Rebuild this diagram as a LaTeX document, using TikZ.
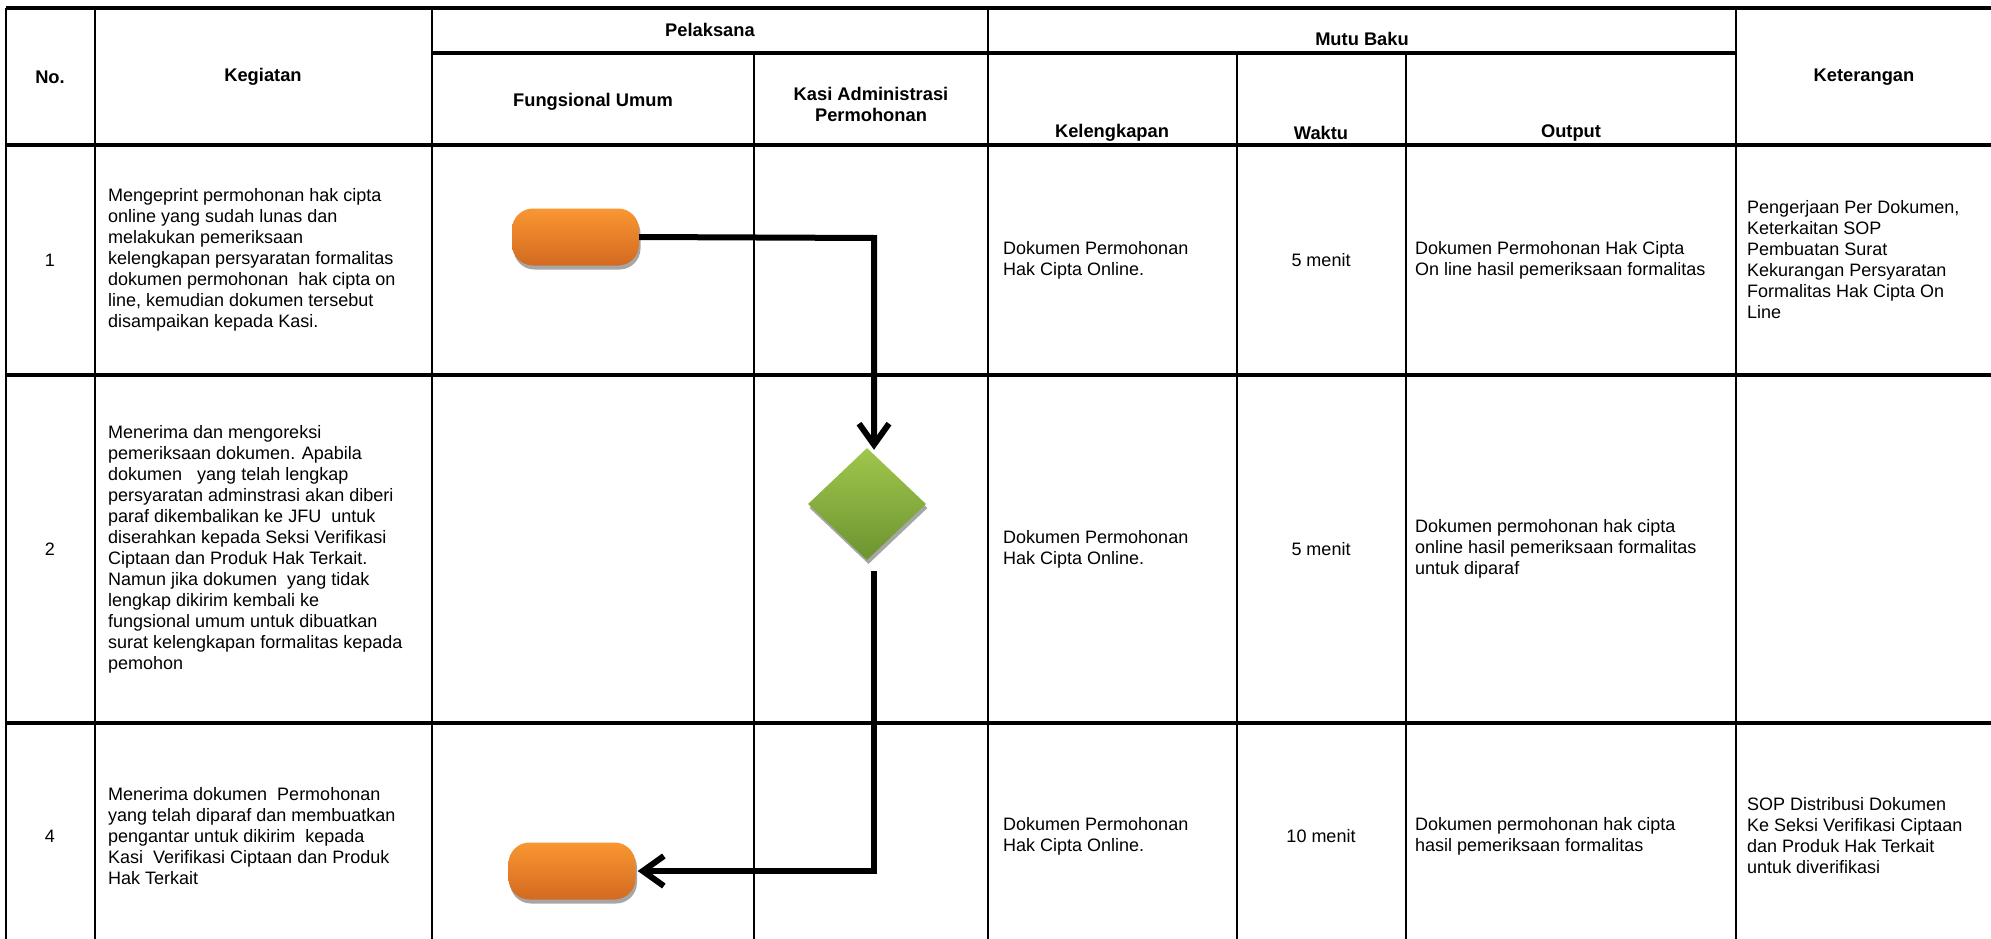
\documentclass[tikz,border=0pt]{standalone}
\usepackage{fontspec}
\setmainfont{Liberation Sans}
\usetikzlibrary{arrows.meta,shapes.geometric,shadows}
\definecolor{orTop}{RGB}{250,150,50}
\definecolor{orBot}{RGB}{210,106,32}
\definecolor{grTop}{RGB}{160,198,76}
\definecolor{grBot}{RGB}{108,148,48}
\definecolor{shd}{RGB}{166,166,166}
\begin{document}
\begin{tikzpicture}[x=1pt,y=-1pt,
  hrule/.style={line width=3.5pt},
  vrule/.style={line width=2.5pt},
  hdr/.style={font=\bfseries\fontsize{18.3}{21}\selectfont, align=center, inner sep=0pt},
  cell/.style={font=\fontsize{18}{21}\selectfont, align=left, anchor=west, inner sep=0pt},
  ctr/.style={font=\fontsize{18}{21}\selectfont, align=center, inner sep=0pt},
  term/.style={rectangle, rounded corners=21pt, minimum width=127pt, minimum height=57pt, inner sep=0pt,
    top color=orTop, bottom color=orBot, draw=none,
    drop shadow={shadow xshift=1.5pt, shadow yshift=-4pt, fill=shd, opacity=1}},
  decis/.style={diamond, minimum width=118pt, minimum height=112pt, inner sep=0pt,
    top color=grTop, bottom color=grBot, draw=none,
    drop shadow={shadow xshift=1.5pt, shadow yshift=-4pt, fill=shd, opacity=1}},
  flow/.style={line width=6pt, -{Straight Barb[length=21pt,width=30pt]}, line join=miter}
]
\useasboundingbox (0,0) rectangle (1991,939);
\fill[white] (0,0) rectangle (1991,939);

% horizontal rules
\draw[hrule] (6,8) -- (1991,8);
\draw[hrule] (432,53) -- (1736,53);
\draw[hrule] (6,145) -- (1991,145);
\draw[hrule] (6,375) -- (1991,375);
\draw[hrule] (6,723) -- (1991,723);
% vertical rules
\draw[vrule] (6,8) -- (6,939);
\draw[vrule] (95,8) -- (95,939);
\draw[vrule] (432,8) -- (432,939);
\draw[vrule] (754,53) -- (754,939);
\draw[vrule] (988,8) -- (988,939);
\draw[vrule] (1237,53) -- (1237,939);
\draw[vrule] (1406,53) -- (1406,939);
\draw[vrule] (1736,8) -- (1736,939);

% header
\node[hdr] (hNo) at (50,77) {No.};
\node[hdr] (hKeg) at (263,77) {Kegiatan};
\node[hdr] (hPel) at (710,30) {Pelaksana};
\node[hdr] (hFu) at (593,102) {Fungsional Umum};
\node[hdr] (hKasi) at (871,104) {Kasi Administrasi\\Permohonan};
\node[hdr] (hMutu) at (1362,39) {Mutu Baku};
\node[hdr] (hKel) at (1112,133) {Kelengkapan};
\node[hdr] (hWak) at (1321,133) {Waktu};
\node[hdr] (hOut) at (1571,133) {Output};
\node[hdr] (hKet) at (1864,77) {Keterangan};

% row 1
\node[ctr] (n1) at (50,260) {1};
\node[cell] (k1) at (108,260) {Mengeprint permohonan hak cipta\\online yang sudah lunas dan\\melakukan pemeriksaan\\kelengkapan persyaratan formalitas\\dokumen permohonan\ \ hak cipta on\\line, kemudian dokumen tersebut\\disampaikan kepada Kasi.};
\node[cell] (l1) at (1003,260) {Dokumen Permohonan\\Hak Cipta Online.};
\node[ctr] (w1) at (1321,260) {5 menit};
\node[cell] (o1) at (1415,260) {Dokumen Permohonan Hak Cipta\\On line hasil pemeriksaan formalitas};
\node[cell] (e1) at (1747,260) {Pengerjaan Per Dokumen,\\Keterkaitan SOP\\Pembuatan Surat\\Kekurangan Persyaratan\\Formalitas Hak Cipta On\\Line};

% row 2
\node[ctr] (n2) at (50,549) {2};
\node[cell] (k2) at (108,549) {Menerima dan mengoreksi\\pemeriksaan dokumen. Apabila\\dokumen\ \ \ yang telah lengkap\\persyaratan adminstrasi akan diberi\\paraf dikembalikan ke JFU\ \ untuk\\diserahkan kepada Seksi Verifikasi\\Ciptaan dan Produk Hak Terkait.\\Namun jika dokumen\ \ yang tidak\\lengkap dikirim kembali ke\\fungsional umum untuk dibuatkan\\surat kelengkapan formalitas kepada\\pemohon};
\node[cell] (l2) at (1003,549) {Dokumen Permohonan\\Hak Cipta Online.};
\node[ctr] (w2) at (1321,549) {5 menit};
\node[cell] (o2) at (1415,549) {Dokumen permohonan hak cipta\\online hasil pemeriksaan formalitas\\untuk diparaf};

% row 3
\node[ctr] (n3) at (50,836) {4};
\node[cell] (k3) at (108,836) {Menerima dokumen\ \ Permohonan\\yang telah diparaf dan membuatkan\\pengantar untuk dikirim\ \ kepada\\Kasi\ \ Verifikasi Ciptaan dan Produk\\Hak Terkait};
\node[cell] (l3) at (1003,836) {Dokumen Permohonan\\Hak Cipta Online.};
\node[ctr] (w3) at (1321,836) {10 menit};
\node[cell] (o3) at (1415,836) {Dokumen permohonan hak cipta\\hasil pemeriksaan formalitas};
\node[cell] (e3) at (1747,836) {SOP Distribusi Dokumen\\Ke Seksi Verifikasi Ciptaan\\dan Produk Hak Terkait\\untuk diverifikasi};

% flow shapes
\node[term] (t1) at (575.5,237) {};
\node[decis] (dia) at (867,504) {};
\node[term] (t2) at (572,871) {};

\coordinate (bend1) at (874,238);
\coordinate (c2) at (874,571);
\draw[flow] (t1.east) -- (bend1) -- ([yshift=-2pt]bend1 |- dia.north);
\draw[flow] (c2) |- ([xshift=2pt]t2.east);
\end{tikzpicture}
\end{document}
